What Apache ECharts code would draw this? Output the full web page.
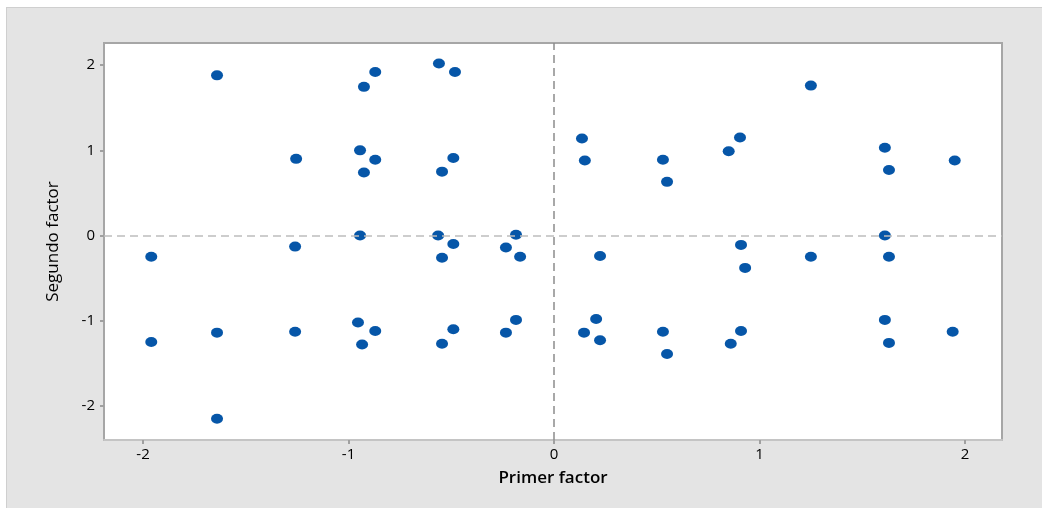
<!DOCTYPE html>
<html>
<head>
<meta charset="utf-8">
<script src="https://cdn.jsdelivr.net/npm/echarts@6/dist/echarts.min.js"></script>
<style>
	html, body { margin: 0; padding: 0; background: #fff; }
	#wrap { position: relative; width: 1042px; height: 508px; }
	#frame { position: absolute; left: 6px; top: 7px; right: 0; bottom: 0; background: #e4e4e4; border-left: 1px solid #cfcfcf; border-top: 1px solid #cfcfcf; }
	#main { position: absolute; left: 0; top: 0; width: 1042px; height: 508px; }
</style>
</head>
<body>
<div id="wrap">
	<div id="frame"></div>
	<div id="main"></div>
</div>
<script>
// puntuaciones
var primerFactor = [
	-1.64, -1.96, -1.96, -1.64, -1.64,
	-1.255, -1.26, -1.26,
	-0.925, -0.87, -0.944, -0.87, -0.925, -0.944, -0.954, -0.87, -0.934,
	-0.56, -0.482, -0.49, -0.545, -0.564, -0.49, -0.545, -0.49, -0.545,
	-0.234, -0.185, -0.165, -0.234, -0.185,
	0.136, 0.15, 0.224, 0.146, 0.205, 0.224,
	0.53, 0.55, 0.53, 0.55,
	0.85, 0.905, 0.91, 0.93, 0.91, 0.86,
	1.25, 1.25,
	1.61, 1.63, 1.61, 1.63, 1.61, 1.63,
	1.95, 1.94
];
var segundoFactor = [
	1.88, -0.25, -1.25, -1.14, -2.15,
	0.9, -0.13, -1.13,
	1.745, 1.92, 1.0, 0.89, 0.74, 0.0, -1.02, -1.12, -1.28,
	2.02, 1.92, 0.91, 0.75, 0.0, -0.1, -0.26, -1.1, -1.27,
	-0.14, 0.01, -0.25, -1.14, -0.99,
	1.14, 0.88, -0.24, -1.14, -0.98, -1.23,
	0.89, 0.63, -1.13, -1.39,
	0.99, 1.15, -0.11, -0.38, -1.12, -1.27,
	1.76, -0.25,
	1.03, 0.77, 0.0, -0.25, -0.99, -1.26,
	0.88, -1.13
];
var ticks = [-2, -1, 0, 1, 2];

(function() {
	var puntos = [];
	for (var i = 0; i < primerFactor.length; i++) {
		puntos.push([primerFactor[i], segundoFactor[i]]);
	}
	var myChart = echarts.init(document.getElementById('main'));
	var option = {
		backgroundColor : 'transparent',
		textStyle : {
			fontFamily : 'Open Sans'
		},
		grid : {
			left : 104,
			top : 43,
			right : 40,
			bottom : 68,
			show : true,
			backgroundColor : '#ffffff',
			borderColor : '#a6a6a6',
			borderWidth : 2
		},
		xAxis : {
			type : 'value',
			min : -2.19,
			max : 2.18,
			name : 'Primer factor',
			nameLocation : 'middle',
			nameGap : 30,
			nameTextStyle : {
				color : '#000',
				fontSize : 17,
				fontWeight : 600
			},
			splitLine : { show : false },
			axisLine : { show : true, onZero : false, lineStyle : { color : '#c4c4c4', width : 2 } },
			axisTick : { show : true, length : 4, customValues : ticks, lineStyle : { color : '#a0a0a0', width : 2 } },
			axisLabel : { customValues : ticks, color : '#000', fontSize : 15, margin : 7 }
		},
		yAxis : {
			type : 'value',
			min : -2.4,
			max : 2.26,
			name : 'Segundo factor',
			nameLocation : 'middle',
			nameGap : 42,
			nameTextStyle : {
				color : '#000',
				fontSize : 17
			},
			splitLine : { show : false },
			axisLine : { show : true, onZero : false, lineStyle : { color : '#a6a6a6', width : 2 } },
			axisTick : { show : true, length : 4, customValues : ticks, lineStyle : { color : '#a0a0a0', width : 2 } },
			axisLabel : { customValues : ticks, color : '#000', fontSize : 15, margin : 9 }
		},
		series : [ {
			type : 'scatter',
			data : puntos,
			symbol : 'circle',
			symbolSize : [ 12, 10 ],
			itemStyle : {
				color : '#0656a8',
				opacity : 1
			},
			markLine : {
				silent : true,
				symbol : [ 'none', 'none' ],
				label : { show : false },
				data : [ {
					xAxis : 0,
					lineStyle : { color : '#8c8c8c', type : [ 8, 5 ], width : 1.5 }
				}, {
					yAxis : 0,
					lineStyle : { color : '#bdbdbd', type : [ 8, 5 ], width : 1.5 }
				} ]
			}
		} ]
	};
	myChart.setOption(option);
})();
</script>
</body>
</html>
